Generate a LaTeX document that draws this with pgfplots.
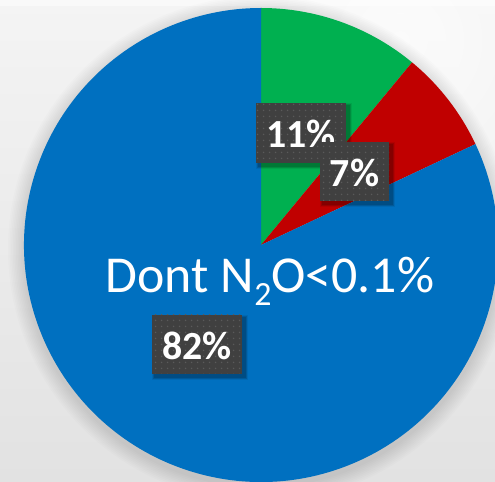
\documentclass[border=0pt]{standalone}
\usepackage{pgfplots}
\pgfplotsset{compat=1.18}
\usepackage{fontspec}
\setmainfont{Carlito}
\usetikzlibrary{patterns.meta}

\definecolor{pgreen}{HTML}{00B050}
\definecolor{pred}{HTML}{C00000}
\definecolor{pblue}{HTML}{0070C0}
\definecolor{boxgray}{HTML}{404040}
\definecolor{dotgray}{HTML}{5A5A5A}
\definecolor{bgtop}{HTML}{F4F4F4}
\definecolor{bgbot}{HTML}{E2E2E2}

% pie values (percent)
\def\valA{11}
\def\valB{7}
\def\valC{82}

% label box: x1 y1 x2 y2 (pixels, y down) and text
\newcommand\lbl[5]{%
  \foreach \s in {1,...,5}{
    \fill[black, opacity=0.07] (#1+3-\s*0.6,#2+3-\s*0.6) rectangle (#3+3+\s*0.6,#4+3+\s*0.6);
  }
  \fill[boxgray] (#1,#2) rectangle (#3,#4);
  \fill[pattern={Dots[distance=6bp, radius=0.9bp]}, pattern color=dotgray] (#1,#2) rectangle (#3,#4);
  \node[text=white, font=\bfseries\fontsize{40}{44}\selectfont, inner sep=0pt]
    at ({(#1+#3)/2},{(#2+#4)/2+1}) {#5};
}

\begin{document}
\begin{tikzpicture}
\pgfmathsetmacro\aA{90}
\pgfmathsetmacro\aB{90-3.6*\valA}
\pgfmathsetmacro\aC{\aB-3.6*\valB}
\pgfmathsetmacro\aD{\aC-3.6*\valC}
\begin{scope}[x=1bp, y=-1bp, yshift=482bp]
  % background
  \shade[top color=bgtop, bottom color=bgbot] (0,0) rectangle (495,482);
  \shade[inner color=white, outer color=bgtop, opacity=0.7] (400,40) circle[radius=200bp];
  \fill[white, opacity=0.5] (0,0) rectangle (495,6);
  % soft shadow around pie
  \foreach \r in {1,...,10}{
    \fill[black, opacity=0.012] (261,249) circle[radius={(237+\r*1.6)*1bp}];
  }
\end{scope}
\begin{axis}[
    at={(0,0)}, anchor=south west,
    width=495bp, height=482bp, scale only axis,
    hide axis,
    xmin=0, xmax=495, ymin=-482, ymax=0,
    clip=true,
  ]
  % slices
  \fill[pgreen] (axis cs:261,-245) -- ++(\aA:237bp) arc[start angle=\aA, end angle=\aB, radius=237bp] -- cycle;
  \fill[pred] (axis cs:261,-245) -- ++(\aB:237bp) arc[start angle=\aB, end angle=\aC, radius=237bp] -- cycle;
  \fill[pblue] (axis cs:261,-245) -- ++(\aC:237bp) arc[start angle=\aC, end angle=\aD, radius=237bp] -- cycle;
\end{axis}
\begin{scope}[x=1bp, y=-1bp, yshift=482bp]
  % title inside pie
  \node[text=white, anchor=base, inner sep=0pt, font=\fontsize{52}{56}\selectfont]
    at (270,293) {Dont N\raisebox{-0.24em}{\fontsize{34}{36}\selectfont 2}O<0.1\%};
  % data labels
  \lbl{256}{103}{346}{163}{11\%}
  \lbl{320}{142}{389}{201}{7\%}
  \lbl{152}{315}{242}{374}{82\%}
\end{scope}
\pgfresetboundingbox
\path[use as bounding box] (0,0) rectangle (495bp,482bp);
\end{tikzpicture}
\end{document}
